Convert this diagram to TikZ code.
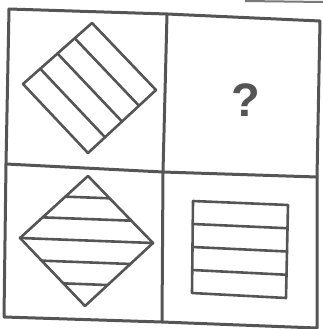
\documentclass[tikz,border=0pt]{standalone}
\usepackage{fontspec}
\setmainfont{Liberation Sans}
\usetikzlibrary{calc}
\begin{document}
\begin{tikzpicture}[x=1pt,y=-1pt,
  ink/.style={draw={rgb,255:red,85;green,85;blue,85}, line width=2.6pt, line join=round, line cap=round},
  frame/.style={ink, line width=3pt},
  qmark/.style={text={rgb,255:red,85;green,85;blue,85}, inner sep=0pt, font=\fontsize{47}{47}\selectfont\bfseries}]
\useasboundingbox (0,0) rectangle (323,329);
% scan smudge at the top
\draw[draw={rgb,255:red,120;green,120;blue,120}, line width=2pt] (245,1) -- (323,2);
% grid
\draw[frame] (9,9) -- (167,14) -- (320,21) -- (317,177) -- (317,328) -- (162,322) -- (4,317) -- (6,164) -- cycle;
\draw[frame] (6,164) -- (163,172) -- (317,177);
\draw[frame] (167,14) -- (163,172) -- (162,322);
% top-left: tilted square with stripes
\coordinate (T) at (92,23);
\coordinate (R) at (156,90);
\coordinate (B) at (88,153);
\coordinate (L) at (23,84);
\draw[ink] (T) -- (R) -- (B) -- (L) -- cycle;
\foreach \t in {0.25,0.5,0.75}
  \draw[ink] ($(T)!\t!(L)$) -- ($(R)!\t!(B)$);
% bottom-left: diamond with horizontal bands
\coordinate (dT) at (88,176);
\coordinate (dR) at (153,243);
\coordinate (dB) at (85,306);
\coordinate (dL) at (20,238);
\draw[ink] (dT) -- (dR) -- (dB) -- (dL) -- cycle;
\foreach \t in {0.333,0.667}
  \draw[ink] ($(dT)!\t!(dL)$) -- ($(dT)!\t!(dR)$);
\draw[ink] (dL) -- (dR);
\foreach \t in {0.333,0.667}
  \draw[ink] ($(dL)!\t!(dB)$) -- ($(dR)!\t!(dB)$);
% bottom-right: square with stripes
\coordinate (sA) at (193,201);
\coordinate (sB) at (288,205);
\coordinate (sC) at (286,298);
\coordinate (sD) at (192,293);
\draw[ink] (sA) -- (sB) -- (sC) -- (sD) -- cycle;
\foreach \t in {0.25,0.5,0.75}
  \draw[ink] ($(sA)!\t!(sD)$) -- ($(sB)!\t!(sC)$);
% top-right: question mark
\node[qmark] (q) at (246,100) {?};
\end{tikzpicture}
\end{document}
